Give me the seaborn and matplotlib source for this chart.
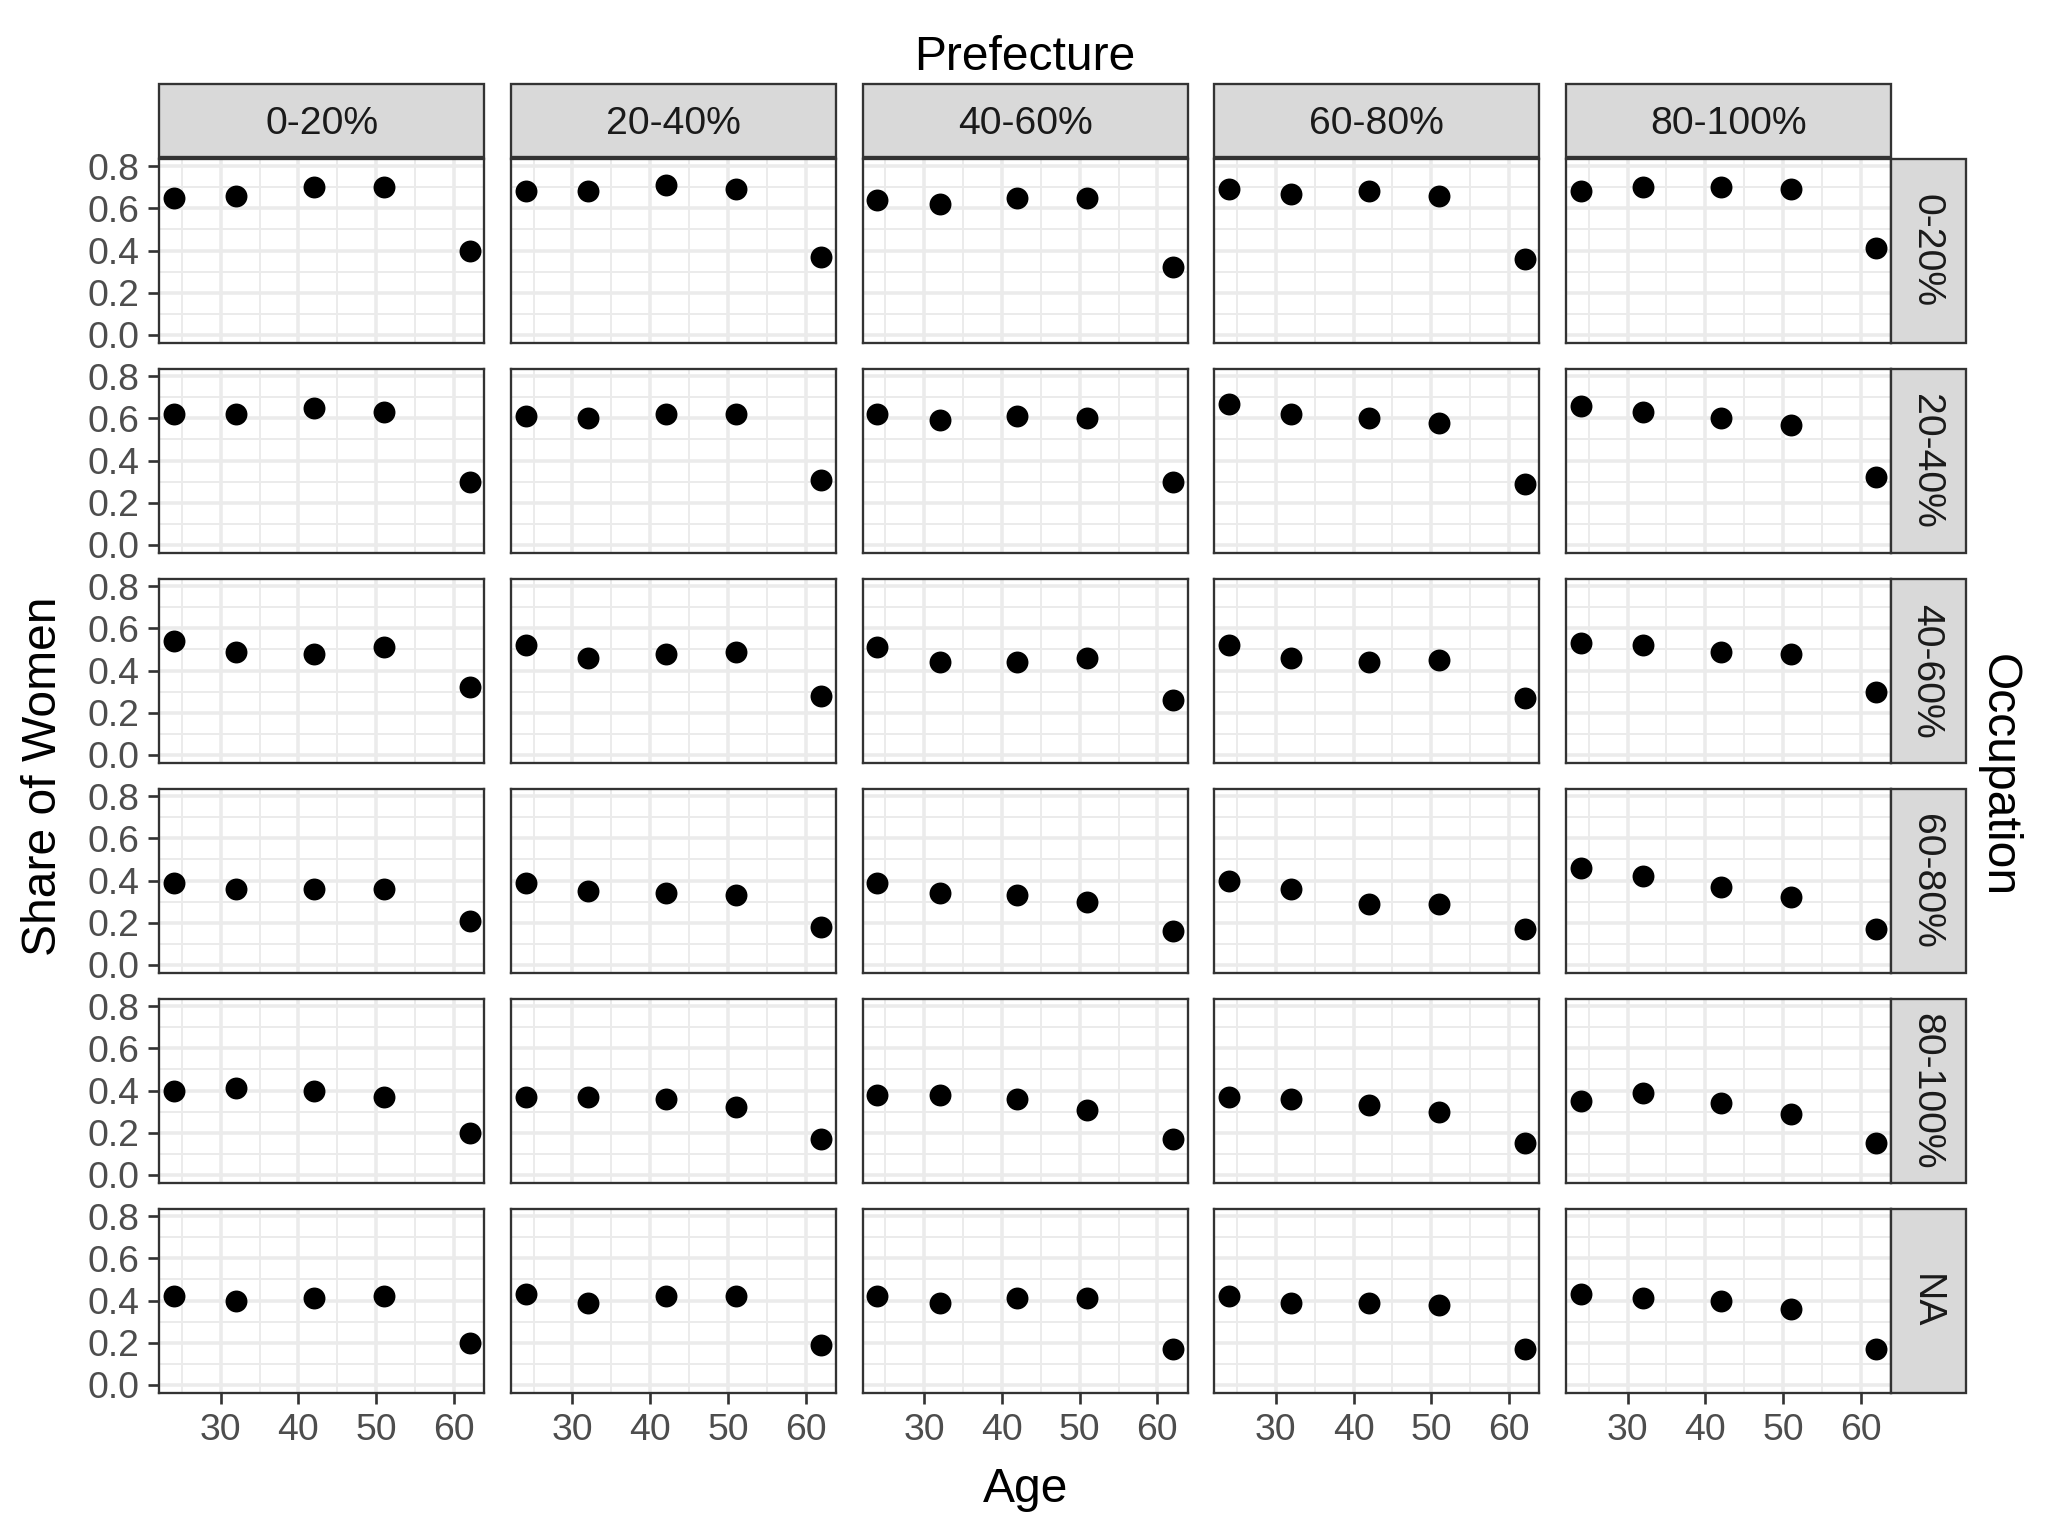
import numpy as np
import pandas as pd
import matplotlib.pyplot as plt
import seaborn as sns
from matplotlib.patches import Rectangle

sns.set_theme(style='white')
plt.rcParams['font.family'] = ['Liberation Sans', 'DejaVu Sans']

# 数据：年龄、县分组（列）、职业分组（行）
ages = [24, 32, 42, 51, 62]
prefecture = ['0-20%', '20-40%', '40-60%', '60-80%', '80-100%']
occupation = ['0-20%', '20-40%', '40-60%', '60-80%', '80-100%', 'NA']

# 每个职业分组：5个县分组，每组5个年龄点的女性占比
occ_0_20 = [[0.65, 0.66, 0.70, 0.70, 0.40],
            [0.68, 0.68, 0.71, 0.69, 0.37],
            [0.64, 0.62, 0.65, 0.65, 0.32],
            [0.69, 0.67, 0.68, 0.66, 0.36],
            [0.68, 0.70, 0.70, 0.69, 0.41]]
occ_20_40 = [[0.62, 0.62, 0.65, 0.63, 0.30],
             [0.61, 0.60, 0.62, 0.62, 0.31],
             [0.62, 0.59, 0.61, 0.60, 0.30],
             [0.67, 0.62, 0.60, 0.58, 0.29],
             [0.66, 0.63, 0.60, 0.57, 0.32]]
occ_40_60 = [[0.54, 0.49, 0.48, 0.51, 0.32],
             [0.52, 0.46, 0.48, 0.49, 0.28],
             [0.51, 0.44, 0.44, 0.46, 0.26],
             [0.52, 0.46, 0.44, 0.45, 0.27],
             [0.53, 0.52, 0.49, 0.48, 0.30]]
occ_60_80 = [[0.39, 0.36, 0.36, 0.36, 0.21],
             [0.39, 0.35, 0.34, 0.33, 0.18],
             [0.39, 0.34, 0.33, 0.30, 0.16],
             [0.40, 0.36, 0.29, 0.29, 0.17],
             [0.46, 0.42, 0.37, 0.32, 0.17]]
occ_80_100 = [[0.40, 0.41, 0.40, 0.37, 0.20],
              [0.37, 0.37, 0.36, 0.32, 0.17],
              [0.38, 0.38, 0.36, 0.31, 0.17],
              [0.37, 0.36, 0.33, 0.30, 0.15],
              [0.35, 0.39, 0.34, 0.29, 0.15]]
occ_na = [[0.42, 0.40, 0.41, 0.42, 0.20],
          [0.43, 0.39, 0.42, 0.42, 0.19],
          [0.42, 0.39, 0.41, 0.41, 0.17],
          [0.42, 0.39, 0.39, 0.38, 0.17],
          [0.43, 0.41, 0.40, 0.36, 0.17]]

all_occ = [occ_0_20, occ_20_40, occ_40_60, occ_60_80, occ_80_100, occ_na]

rows = []
for occ, block in zip(occupation, all_occ):
    for pref, vals in zip(prefecture, block):
        for a, v in zip(ages, vals):
            rows.append({'Occupation': occ, 'Prefecture': pref, 'Age': a, 'Share': v})
df = pd.DataFrame(rows)

W, H = 2048, 1536
fig = plt.figure(figsize=(8, 6), dpi=256)

col_left = 159.3
col_step = 351.7
pw = 325.0
row_top = 159.3
row_step = 210.0
ph = 183.3

border = '#333333'
grid_c = '#EBEBEB'
strip_fill = '#D9D9D9'

for i, occ in enumerate(occupation):
    for j, pref in enumerate(prefecture):
        x0 = col_left + j * col_step
        y0 = row_top + i * row_step
        ax = fig.add_axes([x0 / W, 1 - (y0 + ph) / H, pw / W, ph / H])
        sub = df[(df['Occupation'] == occ) & (df['Prefecture'] == pref)]
        sns.scatterplot(data=sub, x='Age', y='Share', ax=ax, color='black',
                        s=38, linewidth=0, legend=False, zorder=3)
        ax.set_xlim(22.1, 63.9)
        ax.set_ylim(-0.036, 0.832)
        ax.set_xticks([30, 40, 50, 60])
        ax.set_xticks([25, 35, 45, 55], minor=True)
        ax.set_yticks([0.0, 0.2, 0.4, 0.6, 0.8])
        ax.set_yticks([0.1, 0.3, 0.5, 0.7], minor=True)
        ax.set_yticklabels(['0.0', '0.2', '0.4', '0.6', '0.8'])
        ax.grid(which='major', color=grid_c, lw=1.0)
        ax.grid(which='minor', color=grid_c, lw=0.55)
        ax.set_axisbelow(True)
        ax.set_xlabel('')
        ax.set_ylabel('')
        for sp in ax.spines.values():
            sp.set_color(border)
            sp.set_linewidth(0.65)
        ax.tick_params(which='minor', length=0)
        ax.tick_params(which='major', length=3.2, width=0.75, color=border,
                       labelsize=10.5, labelcolor='#4D4D4D', pad=2.5,
                       left=(j == 0), labelleft=(j == 0),
                       bottom=(i == len(occupation) - 1),
                       labelbottom=(i == len(occupation) - 1))

        # 顶部分面标签
        if i == 0:
            fig.add_artist(Rectangle((x0 / W, 1 - 157.0 / H), pw / W, 73.5 / H,
                                     transform=fig.transFigure, facecolor=strip_fill,
                                     edgecolor=border, lw=0.65))
            fig.text((x0 + pw / 2) / W, 1 - 124.5 / H, pref, ha='center', va='center',
                     fontsize=11, color='#1A1A1A')
        # 右侧分面标签
        if j == len(prefecture) - 1:
            fig.add_artist(Rectangle((1891.0 / W, 1 - (y0 + ph) / H), 74.5 / W, ph / H,
                                     transform=fig.transFigure, facecolor=strip_fill,
                                     edgecolor=border, lw=0.65))
            fig.text(1926 / W, 1 - (y0 + ph / 2) / H, occ, ha='center', va='center',
                     rotation=270, fontsize=11, color='#1A1A1A')

mid_x = (col_left + 4 * col_step + pw + col_left) / 2
mid_y = (row_top + 5 * row_step + ph + row_top) / 2
fig.text(mid_x / W, 1 - 57 / H, 'Prefecture', ha='center', va='center', fontsize=13.5, color='black')
fig.text(mid_x / W, 1 - 1489 / H, 'Age', ha='center', va='center', fontsize=13.5, color='black')
fig.text(44 / W, 1 - mid_y / H, 'Share of Women', ha='center', va='center', rotation=90,
         fontsize=13.5, color='black')
fig.text(1998 / W, 1 - mid_y / H, 'Occupation', ha='center', va='center', rotation=270,
         fontsize=13.5, color='black')

fig.savefig('out.png', dpi=256, facecolor='white')
